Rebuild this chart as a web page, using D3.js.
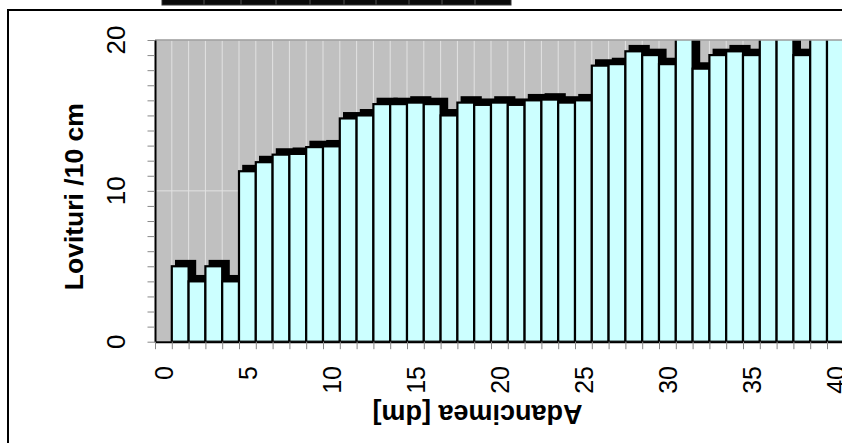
<!DOCTYPE html>
<html><head><meta charset="utf-8">
<script src="https://cdn.jsdelivr.net/npm/d3@7/dist/d3.min.js"></script>
<style>html,body{margin:0;padding:0;background:#fff;} svg{display:block;}</style>
</head><body><svg id="c" width="842" height="443"></svg>
<script>
// ---- data ----
const depths = [0,1,2,3,4,5,6,7,8,9,10,11,12,13,14,15,16,17,18,19,20,21,22,23,24,25,26,27,28,29,30,31,32,33,34,35,36,37,38,39];
const blows  = [5.0,4.0,5.0,4.0,11.3,11.9,12.4,12.45,12.9,12.95,14.8,15.0,15.75,15.75,15.85,15.75,15.0,15.85,15.7,15.85,15.7,16.0,16.05,15.85,16.0,18.3,18.4,19.25,19.0,18.4,21,18.1,19.0,19.25,19.0,21,21,19.0,21,21];
const xTickLabels = [0,5,10,15,20,25,30,35,40];
const yTickLabels = [0,10,20];
const xTitle = "Adancimea [dm]";
const yTitle = "Lovituri /10 cm";

// ---- layout ----
const svg = d3.select("#c");
const font = "'Liberation Sans', Arial, sans-serif";
const x = d3.scaleLinear().domain([-1, 41]).range([155, 155 + 42 * 16.8]);
const y = d3.scaleLinear().domain([0, 20]).range([341.7, 40]);
const plotL = 155, plotT = 40, plotB = y(0), plotR = 900;

// outer frame
svg.append("rect").attr("x", 8).attr("y", 10).attr("width", 900).attr("height", 500)
  .attr("fill", "none").attr("stroke", "#000").attr("stroke-width", 2);

// cut-off header block at top
svg.append("rect").attr("x", 162).attr("y", -5).attr("width", 349).attr("height", 10)
  .attr("fill", "#0a0a0a").attr("stroke", "#333").attr("stroke-width", 1);
[204, 241, 276, 310, 344, 376, 409, 442, 475].forEach(px => {
  svg.append("line").attr("x1", px).attr("x2", px).attr("y1", 0).attr("y2", 4.5)
    .attr("stroke", "#555").attr("stroke-width", 1);
});

// clip
svg.append("defs").append("clipPath").attr("id", "clip")
  .append("rect").attr("x", plotL).attr("y", plotT).attr("width", plotR - plotL).attr("height", plotB - plotT);

// background
svg.append("rect").attr("x", plotL).attr("y", plotT).attr("width", plotR - plotL).attr("height", plotB - plotT)
  .attr("fill", "#c0c0c0");

const g = svg.append("g").attr("clip-path", "url(#clip)");
// grid
g.selectAll("line.vg").data(d3.range(-1, 42)).join("line").attr("class", "vg")
  .attr("x1", d => x(d)).attr("x2", d => x(d)).attr("y1", plotT).attr("y2", plotB)
  .attr("stroke", "#e2e2e2").attr("stroke-width", 1);
g.selectAll("line.hg").data(yTickLabels).join("line").attr("class", "hg")
  .attr("x1", plotL).attr("x2", plotR).attr("y1", d => y(d)).attr("y2", d => y(d))
  .attr("stroke", "#e2e2e2").attr("stroke-width", 1);

// shadows
const bw = x(1) - x(0);
g.selectAll("rect.sh").data(depths).join("rect").attr("class", "sh")
  .attr("x", (d) => x(d) + 5.4).attr("y", (d, i) => y(blows[i]) - 4.2)
  .attr("width", bw).attr("height", (d, i) => y(0) - y(blows[i]))
  .attr("fill", "#000").attr("stroke", "#000").attr("stroke-width", 4.4);
// bars
g.selectAll("rect.bar").data(depths).join("rect").attr("class", "bar")
  .attr("x", d => x(d)).attr("y", (d, i) => y(blows[i]))
  .attr("width", bw).attr("height", (d, i) => y(0) - y(blows[i]))
  .attr("fill", "#ccffff").attr("stroke", "#000").attr("stroke-width", 2.2);

// top border
svg.append("line").attr("x1", plotL).attr("x2", plotR).attr("y1", plotT).attr("y2", plotT)
  .attr("stroke", "#9a9a9a").attr("stroke-width", 1.6);

// axes
const yAxis = d3.axisLeft(y).tickValues(d3.range(0, 21)).tickSize(7.5).tickSizeOuter(0).tickFormat("");
const ya = svg.append("g").attr("transform", `translate(${plotL},0)`).call(yAxis);
ya.select(".domain").attr("stroke", "#000").attr("stroke-width", 2);
ya.selectAll(".tick line").attr("stroke", "#888").attr("stroke-width", 1);

const xAxis = d3.axisBottom(x).tickValues(d3.range(-1, 42)).tickSize(7.5).tickSizeOuter(0).tickFormat("");
const xa = svg.append("g").attr("transform", `translate(0,${plotB})`).call(xAxis);
xa.select(".domain").attr("stroke", "#000").attr("stroke-width", 2);
xa.selectAll(".tick line").attr("stroke", "#888").attr("stroke-width", 1);

// tick labels
svg.selectAll("text.yl").data(yTickLabels).join("text").attr("class", "yl")
  .attr("transform", d => `translate(125,${y(d)}) rotate(-90)`)
  .attr("text-anchor", "middle").attr("font-family", font).attr("font-size", 26)
  .attr("fill", "#000").text(d => d);
svg.selectAll("text.xl").data(xTickLabels).join("text").attr("class", "xl")
  .attr("transform", d => `translate(${x(d) + 1.5},366) rotate(-90)`)
  .attr("text-anchor", "end").attr("font-family", font).attr("font-size", 25)
  .attr("fill", "#000").text(d => d);

// titles
svg.append("text").attr("transform", "translate(83,196.7) rotate(-90)")
  .attr("text-anchor", "middle").attr("font-family", font).attr("font-size", 26.5)
  .attr("font-weight", "bold").text(yTitle);
svg.append("text").attr("transform", "translate(477.5,405) rotate(180)")
  .attr("text-anchor", "middle").attr("font-family", font).attr("font-size", 27)
  .attr("font-weight", "bold").text(xTitle);
</script></body></html>
